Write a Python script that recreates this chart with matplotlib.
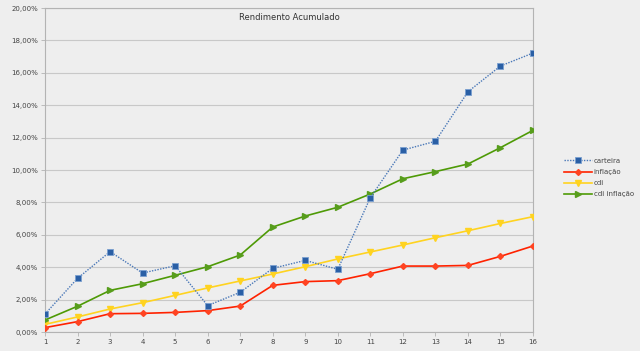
import matplotlib
matplotlib.use("Agg")
import matplotlib.pyplot as plt
from matplotlib.ticker import FuncFormatter

periods = list(range(1, 17))
carteira = [1.11, 3.31, 4.96, 3.64, 4.09, 1.63, 2.45, 3.93, 4.42, 3.87, 8.29, 11.23, 11.77, 14.83, 16.42, 17.22]
inflacao = [0.27, 0.64, 1.13, 1.15, 1.21, 1.32, 1.60, 2.88, 3.11, 3.17, 3.60, 4.07, 4.07, 4.11, 4.67, 5.31]
cdi = [0.47, 0.93, 1.42, 1.81, 2.26, 2.72, 3.15, 3.58, 4.03, 4.51, 4.94, 5.37, 5.82, 6.25, 6.70, 7.12]
cdi_inflacao = [0.74, 1.59, 2.57, 2.98, 3.50, 4.03, 4.75, 6.48, 7.16, 7.70, 8.52, 9.46, 9.90, 10.37, 11.38, 12.45]
yticks = [0, 2, 4, 6, 8, 10, 12, 14, 16, 18, 20]

bg = "#eeeeee"
fig = plt.figure(figsize=(6.4, 3.51), dpi=100, facecolor=bg)
ax = fig.add_axes([45/640, 19/351, (533-45)/640, (332-8)/351], facecolor=bg)

ax.plot(periods, carteira, color="#4a78b8", linestyle=(0, (1, 1)), linewidth=1.0,
        marker="s", markersize=5, markerfacecolor="#2a5fa5", markeredgecolor="#7a9fd0",
        markeredgewidth=0.6, label="carteira", zorder=5)
ax.plot(periods, inflacao, color="#ff2200", linewidth=1.2, marker="D", markersize=3,
        markerfacecolor="#ff4422", markeredgecolor="#ff4422", label="inflação", zorder=4)
ax.plot(periods, cdi, color="#ffd320", linewidth=1.2, marker="v", markersize=4,
        markerfacecolor="#ffd320", markeredgecolor="#ffd320", label="cdi", zorder=3)
ax.plot(periods, cdi_inflacao, color="#4e9a06", linewidth=1.2, marker=">", markersize=4,
        markerfacecolor="#579d1c", markeredgecolor="#579d1c", label="cdi inflação", zorder=3)

ax.set_xlim(1, 16)
ax.set_ylim(0, 20)
ax.set_xticks(periods)
ax.set_yticks(yticks)
ax.yaxis.set_major_formatter(FuncFormatter(lambda v, p: f"{v:.2f}%".replace(".", ",")))
ax.grid(axis="y", color="#c8c8c8", linewidth=0.8)
ax.set_axisbelow(True)
for s in ax.spines.values():
    s.set_color("#b3b3b3")
    s.set_linewidth(0.8)
ax.tick_params(axis="both", labelsize=5, colors="#b3b3b3", labelcolor="#444444",
               length=3, width=0.6, pad=2)

ax.text(0.5, 0.972, "Rendimento Acumulado", transform=ax.transAxes, ha="center", va="center",
        fontsize=6, color="#333333")

leg = fig.legend(loc="upper left", bbox_to_anchor=(561/640, 1 - 155/351), frameon=False,
                 fontsize=5, labelcolor="#444444", handlelength=4, handletextpad=0.3,
                 labelspacing=0.75, borderaxespad=0)

fig.savefig("out.png", dpi=100, facecolor=bg)
